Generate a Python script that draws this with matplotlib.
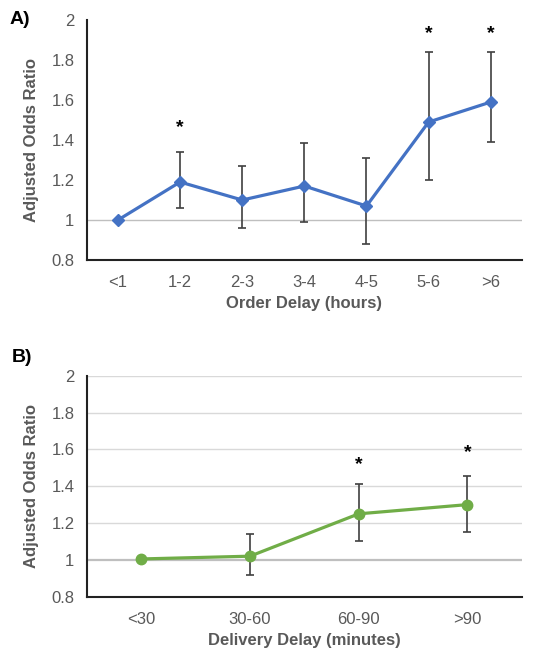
import matplotlib.pyplot as plt

plt.rcParams['font.family'] = ['Liberation Sans', 'DejaVu Sans']

BLUE = "#4472C4"
GREEN = "#70AD47"
TEXT_GRAY = "#595959"
ERR_GRAY = "#404040"

# Panel A: order delay
order_cats = ["<1", "1-2", "2-3", "3-4", "4-5", "5-6", ">6"]
order_aor = [1.00, 1.19, 1.10, 1.17, 1.07, 1.49, 1.59]
order_low = [1.00, 1.06, 0.96, 0.99, 0.88, 1.20, 1.39]
order_high = [1.00, 1.34, 1.27, 1.385, 1.31, 1.84, 1.84]
order_star = [None, 1.46, None, None, None, 1.93, 1.93]

# Panel B: delivery delay
deliv_cats = ["<30", "30-60", "60-90", ">90"]
deliv_aor = [1.005, 1.02, 1.25, 1.30]
deliv_low = [1.005, 0.92, 1.10, 1.15]
deliv_high = [1.005, 1.14, 1.41, 1.455]
deliv_star = [None, None, 1.52, 1.58]


def draw_panel(ax, cats, vals, lows, highs, stars, color, marker, msize, xlabel, grid):
    x = list(range(len(cats)))
    yerr = [[v - lo for v, lo in zip(vals, lows)], [hi - v for v, hi in zip(vals, highs)]]
    if grid:
        for g in [1.2, 1.4, 1.6, 1.8, 2.0]:
            ax.axhline(g, color="#d9d9d9", lw=1.0, zorder=0)
        ax.axhline(1.0, color="#bfbfbf", lw=1.6, zorder=0)
    else:
        ax.axhline(1.0, color="#bfbfbf", lw=1.0, zorder=0)
    ax.errorbar(x, vals, yerr=yerr, fmt="none", ecolor=ERR_GRAY, elinewidth=1.2,
                capsize=2.6, capthick=1.2, zorder=2)
    ax.plot(x, vals, color=color, lw=2.3, marker=marker, markersize=msize, zorder=3)
    for xi, s in zip(x, stars):
        if s is not None:
            ax.text(xi, s, "*", ha="center", va="center", fontsize=14,
                    fontweight="bold", color="black")
    ax.set_xlim(-0.5, len(cats) - 0.5)
    ax.set_ylim(0.8, 2.0)
    ax.set_yticks([0.8, 1.0, 1.2, 1.4, 1.6, 1.8, 2.0])
    ax.set_yticklabels(["0.8", "1", "1.2", "1.4", "1.6", "1.8", "2"])
    ax.set_xticks(x)
    ax.set_xticklabels(cats)
    ax.tick_params(axis="both", length=0, labelsize=12, labelcolor=TEXT_GRAY)
    ax.tick_params(axis="x", pad=11)
    ax.tick_params(axis="y", pad=9)
    for side in ["top", "right"]:
        ax.spines[side].set_visible(False)
    for side in ["left", "bottom"]:
        ax.spines[side].set_linewidth(1.5)
        ax.spines[side].set_color("#222222")
    ax.set_xlabel(xlabel, fontsize=12, fontweight="bold", color=TEXT_GRAY, labelpad=4)
    ax.set_ylabel("Adjusted Odds Ratio", fontsize=12, fontweight="bold", color=TEXT_GRAY, labelpad=9)


fig = plt.figure(figsize=(5.43, 6.51), dpi=100)
axA = fig.add_axes([0.160, 0.6006, 0.801, 0.3686])
axB = fig.add_axes([0.160, 0.0834, 0.801, 0.3395])

draw_panel(axA, order_cats, order_aor, order_low, order_high, order_star,
           BLUE, "D", 6, "Order Delay (hours)", grid=False)
draw_panel(axB, deliv_cats, deliv_aor, deliv_low, deliv_high, deliv_star,
           GREEN, "o", 7.5, "Delivery Delay (minutes)", grid=True)

fig.text(0.017, 0.970, "A)", fontsize=14, fontweight="bold", ha="left", va="center")
fig.text(0.021, 0.451, "B)", fontsize=14, fontweight="bold", ha="left", va="center")

fig.savefig("out.png", dpi=100)
